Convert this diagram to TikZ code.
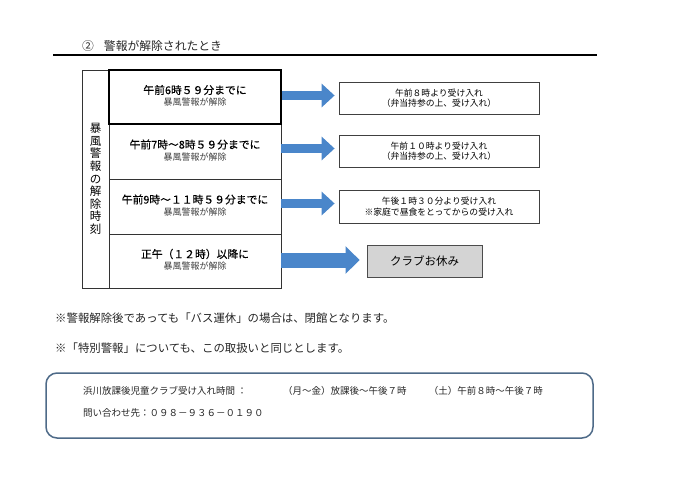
\documentclass[tikz,border=0pt]{standalone}
\usepackage{fontspec}
\setmainfont{Noto Sans CJK JP}
\newfontfamily\jpmed[FakeBold=0.2]{Noto Sans CJK JP}
\usetikzlibrary{arrows.meta}
\definecolor{arrowblue}{RGB}{74,134,202}
\definecolor{framecol}{RGB}{78,106,136}
\definecolor{boxgray}{RGB}{212,212,212}
\begin{document}
\begin{tikzpicture}[x=1pt,y=-1pt,
  rowbox/.style={draw=black!80,line width=0.8pt,minimum width=172pt,inner sep=0pt},
  rowmain/.style={inner sep=0pt,font=\jpmed\fontsize{10.8}{12}\selectfont},
  rowsub/.style={inner sep=0pt,font=\fontsize{9}{10}\selectfont,text=black!75},
  resbox/.style={draw=black!75,line width=0.8pt,minimum width=200pt,minimum height=32pt,inner sep=0pt,align=center,font=\fontsize{8.8}{10.5}\selectfont},
  offbox/.style={draw=black!70,fill=boxgray,line width=0.9pt,minimum width=115pt,minimum height=32pt,inner sep=0pt,font=\fontsize{11.5}{13}\selectfont},
  blockarrow/.style={arrowblue,line width=9pt,-{Triangle[length=13pt,width=23pt]},shorten >=4pt},
  bigarrow/.style={arrowblue,line width=15pt,-{Triangle[length=14pt,width=27pt]},shorten >=7pt},
  plaintext/.style={inner sep=0pt,anchor=west},
  notetext/.style={plaintext,font=\fontsize{11.4}{13}\selectfont,text=black!85},
  infotext/.style={inner sep=0pt,font=\fontsize{9.5}{11}\selectfont,text=black!85}
]
\useasboundingbox[fill=white] (0,0) rectangle (700,495);

% title
\node[plaintext,font=\fontsize{11.8}{14}\selectfont,text=black!85] (title) at (82,46) {②\hspace{10pt}警報が解除されたとき};
\draw[line width=2.2pt] (53,55) -- (597,55);

% left column
\node[draw=black!80,line width=0.8pt,minimum width=27pt,minimum height=218pt,inner sep=0pt,align=center,font=\fontsize{11.5}{12.6}\selectfont] (leftcol) at (95.5,179) {暴\\風\\警\\報\\の\\解\\除\\時\\刻};

% rows
\node[rowbox,minimum height=55pt] (row2) at (195,151.5) {};
\node[rowbox,minimum height=55pt] (row3) at (195,206.5) {};
\node[rowbox,minimum height=54pt] (row4) at (195,261) {};
\node[rowbox,minimum height=54pt,draw=black,line width=1.6pt] (row1) at (195,97) {};

\node[rowmain] (r1a) at (195,90) {午前6時５９分までに};
\node[rowsub]  (r1b) at (195,102.5) {暴風警報が解除};
\node[rowmain] (r2a) at (195,144.5) {午前7時～8時５９分までに};
\node[rowsub]  (r2b) at (195,157) {暴風警報が解除};
\node[rowmain] (r3a) at (195,199.5) {午前9時～１１時５９分までに};
\node[rowsub]  (r3b) at (195,212) {暴風警報が解除};
\node[rowmain] (r4a) at (195,254) {正午（１２時）以降に};
\node[rowsub]  (r4b) at (195,266.5) {暴風警報が解除};

% results
\node[resbox] (res1) at (439,98) {午前８時より受け入れ\\（弁当持参の上、受け入れ）};
\node[resbox] (res2) at (439,151) {午前１０時より受け入れ\\（弁当持参の上、受け入れ）};
\node[resbox,minimum height=33pt] (res3) at (439,206.5) {午後１時３０分より受け入れ\\※家庭で昼食をとってからの受け入れ};
\node[offbox] (res4) at (424.5,261) {クラブお休み};

% arrows
\coordinate (a1s) at ([yshift=1.5pt]row1.east);
\coordinate (a1e) at (a1s -| res1.west);
\coordinate (a2s) at ([yshift=3pt]row2.east);
\coordinate (a2e) at (a2s -| res2.west);
\coordinate (a3s) at ([yshift=3pt]row3.east);
\coordinate (a3e) at (a3s -| res3.west);
\coordinate (a4s) at ([yshift=1pt]row4.east);
\coordinate (a4e) at (a4s -| res4.west);
\draw[blockarrow] (a1s) -- (a1e);
\draw[blockarrow] (a2s) -- (a2e);
\draw[blockarrow] (a3s) -- (a3e);
\draw[bigarrow] (a4s) -- (a4e);

% notes
\node[notetext] (note1) at (55,318) {※警報解除後であっても「バス運休」の場合は、閉館となります。};
\node[notetext] (note2) at (55,348) {※「特別警報」についても、この取扱いと同じとします。};

% info box
\node[draw=framecol,line width=1.5pt,rounded corners=11pt,minimum width=547pt,minimum height=65pt,inner sep=0pt] (infobox) at (319.5,405.5) {};
\node[infotext,anchor=west] (info1) at (83,391) {浜川放課後児童クラブ受け入れ時間 ：};
\node[infotext,anchor=west] (info2) at (283,391) {（月～金）放課後～午後７時};
\node[infotext,anchor=east] (info3) at (543,391) {（土）午前８時～午後７時};
\node[infotext,anchor=west] (info4) at (83,413) {問い合わせ先：０９８－９３６－０１９０};
\end{tikzpicture}
\end{document}
